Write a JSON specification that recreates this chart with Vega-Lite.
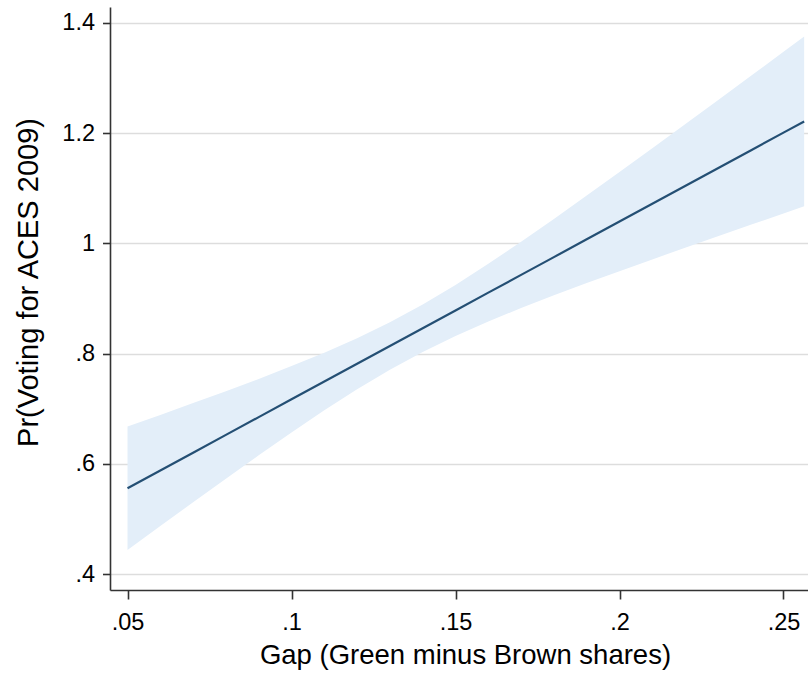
{
  "$schema": "https://vega.github.io/schema/vega-lite/v6.json",
  "width": 698,
  "height": 583,
  "autosize": {"type": "none"},
  "padding": {"left": 110, "top": 7, "right": 0, "bottom": 83},
  "background": "white",
  "config": {
    "view": {"stroke": null},
    "font": "Liberation Sans",
    "axis": {
      "labelFont": "Liberation Sans",
      "titleFont": "Liberation Sans",
      "labelColor": "#000000",
      "titleColor": "#000000",
      "titleFontWeight": "normal",
      "domainColor": "#333333",
      "tickColor": "#333333",
      "domainWidth": 1.6,
      "tickWidth": 1.6
    }
  },
  "data": {
    "values": [
      {"gap": 0.05, "fit": 0.556, "lo": 0.444, "hi": 0.668},
      {"gap": 0.06, "fit": 0.5882, "lo": 0.4874, "hi": 0.689},
      {"gap": 0.07, "fit": 0.6205, "lo": 0.5306, "hi": 0.7104},
      {"gap": 0.08, "fit": 0.6527, "lo": 0.5734, "hi": 0.732},
      {"gap": 0.09, "fit": 0.6849, "lo": 0.6156, "hi": 0.7542},
      {"gap": 0.1, "fit": 0.7172, "lo": 0.657, "hi": 0.7774},
      {"gap": 0.11, "fit": 0.7494, "lo": 0.6972, "hi": 0.8016},
      {"gap": 0.12, "fit": 0.7816, "lo": 0.7354, "hi": 0.8278},
      {"gap": 0.13, "fit": 0.8139, "lo": 0.771, "hi": 0.8568},
      {"gap": 0.14, "fit": 0.8461, "lo": 0.8032, "hi": 0.889},
      {"gap": 0.15, "fit": 0.8783, "lo": 0.8321, "hi": 0.9245},
      {"gap": 0.16, "fit": 0.9106, "lo": 0.8584, "hi": 0.9628},
      {"gap": 0.17, "fit": 0.9428, "lo": 0.8826, "hi": 1.003},
      {"gap": 0.18, "fit": 0.975, "lo": 0.9057, "hi": 1.0443},
      {"gap": 0.19, "fit": 1.0073, "lo": 0.928, "hi": 1.0866},
      {"gap": 0.2, "fit": 1.0395, "lo": 0.9496, "hi": 1.1294},
      {"gap": 0.21, "fit": 1.0717, "lo": 0.9709, "hi": 1.1725},
      {"gap": 0.22, "fit": 1.104, "lo": 0.992, "hi": 1.216},
      {"gap": 0.23, "fit": 1.1362, "lo": 1.0129, "hi": 1.2595},
      {"gap": 0.24, "fit": 1.1684, "lo": 1.0336, "hi": 1.3032},
      {"gap": 0.25, "fit": 1.2007, "lo": 1.0542, "hi": 1.3472},
      {"gap": 0.2563, "fit": 1.221, "lo": 1.0672, "hi": 1.3748}
    ]
  },
  "encoding": {
    "x": {
      "field": "gap",
      "type": "quantitative",
      "scale": {"domain": [0.04466, 0.25747], "nice": false, "zero": false},
      "axis": {
        "title": "Gap (Green minus Brown shares)",
        "values": [0.05, 0.1, 0.15, 0.2, 0.25],
        "labelExpr": "datum.value < 1 ? substring(format(datum.value, '~g'), 1) : format(datum.value, '~g')",
        "labelFontSize": 23.5,
        "labelPadding": 11,
        "tickSize": 9,
        "grid": false,
        "titleFontSize": 27.5,
        "titleBaseline": "alphabetic",
        "titleAlign": "center",
        "titleX": 355,
        "titleY": 73
      }
    }
  },
  "layer": [
    {
      "mark": {"type": "area", "color": "#e3eef9", "opacity": 1},
      "encoding": {
        "y": {
          "field": "lo",
          "type": "quantitative",
          "scale": {"domain": [0.3715, 1.4285], "nice": false, "zero": false},
          "axis": {
            "title": "Pr(Voting for ACES 2009)",
            "values": [0.4, 0.6, 0.8, 1, 1.2, 1.4],
            "labelExpr": "datum.value < 1 ? substring(format(datum.value, '~g'), 1) : format(datum.value, '~g')",
            "labelFontSize": 23.5,
            "labelPadding": 8,
            "tickSize": 7.5,
            "grid": true,
            "gridColor": "#dddddd",
            "gridWidth": 1.5,
            "titleFontSize": 29,
            "titleBaseline": "alphabetic",
            "titleAlign": "center",
            "titleAngle": -90,
            "titleX": -73,
            "titleY": 275
          }
        },
        "y2": {"field": "hi"}
      }
    },
    {
      "mark": {"type": "line", "color": "#244f74", "strokeWidth": 2.2},
      "encoding": {
        "y": {"field": "fit", "type": "quantitative"}
      }
    }
  ]
}
